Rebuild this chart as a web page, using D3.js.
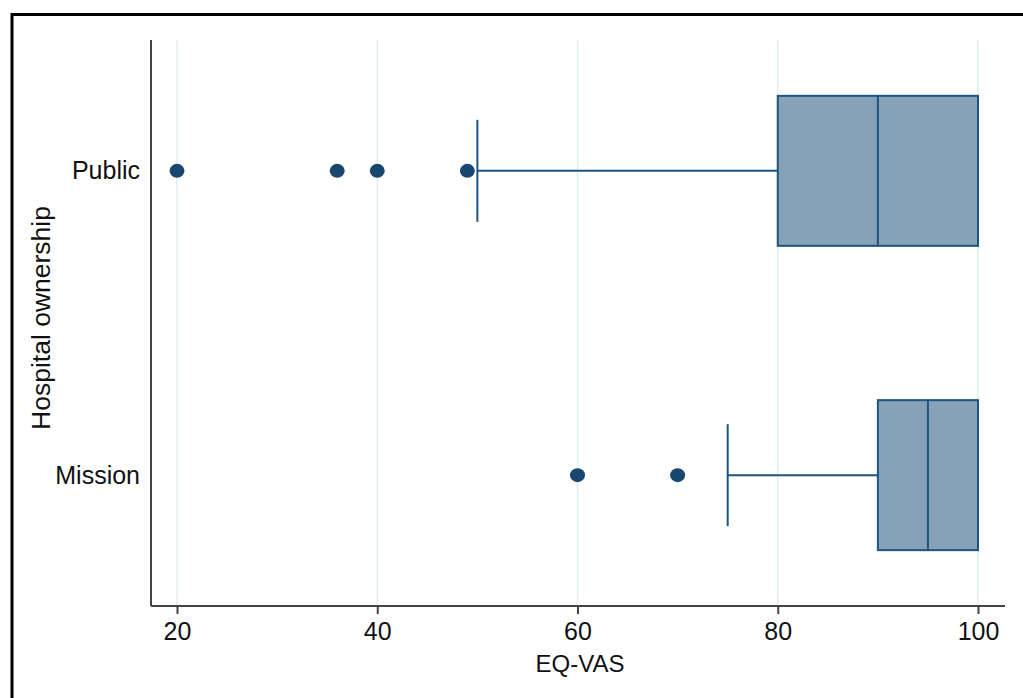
<!DOCTYPE html>
<html>
<head>
<meta charset="utf-8">
<script src="https://cdn.jsdelivr.net/npm/d3@7"></script>
<style>
  body { margin: 0; background: #fff; }
  svg { display: block; font-family: "Liberation Sans", Arial, sans-serif; }
</style>
</head>
<body>
<svg width="1023" height="698"></svg>
<script>
// data
const groups = ["Public", "Mission"];
const q1 = [80, 90];
const medians = [90, 95];
const q3 = [100, 100];
const lowerWhisker = [50, 75];
const upperWhisker = [100, 100];
const outliers = [[20, 36, 40, 49], [60, 70]];
const xTicks = [20, 40, 60, 80, 100];

const svg = d3.select("svg");
const navy = "#1a476f";
const boxStroke = "#1c5581";
const boxFill = "#87a1b7";

// outer frame (only top and left edges visible)
svg.append("path")
    .attr("d", "M12,698 V14.5 H1023")
    .attr("fill", "none")
    .attr("stroke", "#000")
    .attr("stroke-width", 3);

const plotLeft = 151, plotRight = 1005, plotTop = 40, plotBottom = 606;

const x = d3.scaleLinear().domain([20, 100]).range([177, 978]);
const y = d3.scalePoint().domain(groups).range([plotTop, plotBottom]).padding(0.43);
const boxH = 75, capH = 51;

// gridlines
svg.append("g").selectAll("line")
    .data(xTicks)
    .join("line")
    .attr("x1", d => x(d)).attr("x2", d => x(d))
    .attr("y1", plotTop).attr("y2", plotBottom)
    .attr("stroke", "#e4eef0")
    .attr("stroke-width", 1.5);

// axes
const xAxis = svg.append("g")
    .attr("transform", `translate(0,${plotBottom})`)
    .call(d3.axisBottom(x).tickValues(xTicks).tickSize(8).tickPadding(8).tickFormat(d3.format("d")));
xAxis.select(".domain").attr("d", `M${plotLeft},0H${plotRight}`).attr("stroke", "#444").attr("stroke-width", 2);
xAxis.selectAll(".tick line").attr("stroke", "#444").attr("stroke-width", 2);
xAxis.selectAll(".tick text").attr("font-size", 25).attr("fill", "#111");

const yAxis = svg.append("g")
    .attr("transform", `translate(${plotLeft},0)`)
    .call(d3.axisLeft(y).tickSize(0).tickPadding(11));
yAxis.select(".domain").attr("d", `M0,${plotTop}V${plotBottom}`).attr("stroke", "#444").attr("stroke-width", 2);
yAxis.selectAll(".tick text").attr("font-size", 25).attr("fill", "#111");

// axis titles
svg.append("text")
    .attr("x", 580).attr("y", 672)
    .attr("text-anchor", "middle")
    .attr("font-size", 24).attr("fill", "#111")
    .text("EQ-VAS");
svg.append("text")
    .attr("transform", "translate(50,318) rotate(-90)")
    .attr("text-anchor", "middle")
    .attr("font-size", 26.5).attr("fill", "#111")
    .text("Hospital ownership");

// boxes
const g = svg.append("g");
groups.forEach((name, i) => {
    const cy = y(name);
    // whiskers
    g.append("line")
        .attr("x1", x(lowerWhisker[i])).attr("x2", x(q1[i]))
        .attr("y1", cy).attr("y2", cy)
        .attr("stroke", boxStroke).attr("stroke-width", 2);
    g.append("line")
        .attr("x1", x(lowerWhisker[i])).attr("x2", x(lowerWhisker[i]))
        .attr("y1", cy - capH).attr("y2", cy + capH)
        .attr("stroke", boxStroke).attr("stroke-width", 2);
    if (upperWhisker[i] > q3[i]) {
        g.append("line")
            .attr("x1", x(q3[i])).attr("x2", x(upperWhisker[i]))
            .attr("y1", cy).attr("y2", cy)
            .attr("stroke", boxStroke).attr("stroke-width", 2);
    }
    // box
    g.append("rect")
        .attr("x", x(q1[i])).attr("y", cy - boxH)
        .attr("width", x(q3[i]) - x(q1[i])).attr("height", 2 * boxH)
        .attr("fill", boxFill).attr("stroke", boxStroke).attr("stroke-width", 2);
    g.append("line")
        .attr("x1", x(medians[i])).attr("x2", x(medians[i]))
        .attr("y1", cy - boxH).attr("y2", cy + boxH)
        .attr("stroke", boxStroke).attr("stroke-width", 2);
    // outliers
    g.selectAll(null)
        .data(outliers[i])
        .join("ellipse")
        .attr("cx", d => x(d)).attr("cy", cy)
        .attr("rx", 7.5).attr("ry", 7)
        .attr("fill", navy);
});
</script>
</body>
</html>
